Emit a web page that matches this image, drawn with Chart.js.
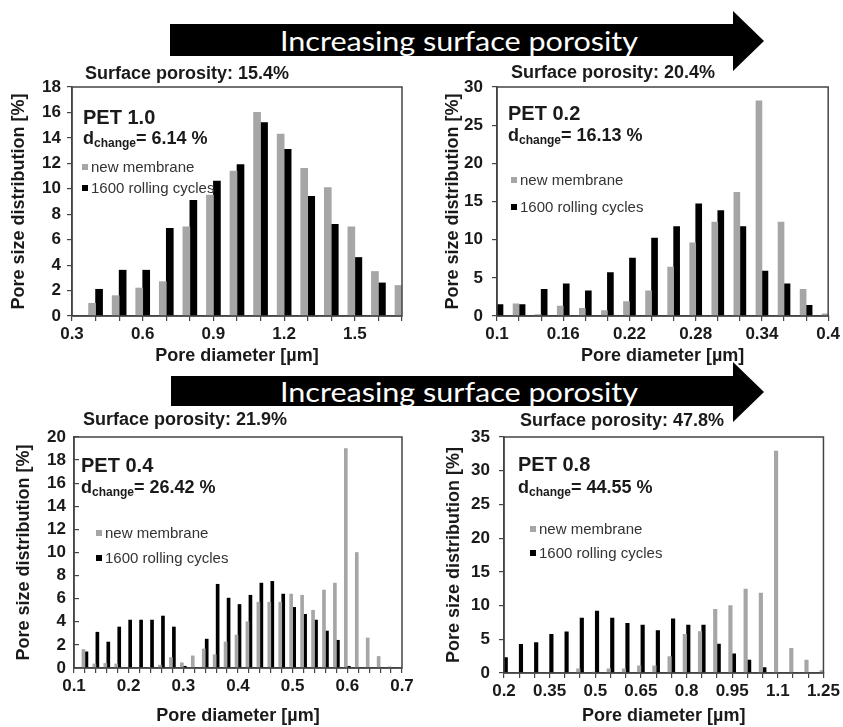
<!DOCTYPE html>
<html>
<head>
<meta charset="utf-8">
<script src="https://cdn.jsdelivr.net/npm/chart.js@4.4.1/dist/chart.umd.min.js"></script>
<style>
	body { margin: 0; background: #fff; }
	#fig { position: relative; width: 843px; height: 727px; overflow: hidden; font-family: 'Liberation Sans', Arial, sans-serif; color: #1a1a1a; }
	.panel { position: absolute; }
	.lbl { position: absolute; white-space: nowrap; line-height: 22px; height: 22px; }
	.sp { font-weight: bold; font-size: 18px; }
	.pet { font-weight: bold; font-size: 20px; }
	.dch { font-weight: bold; font-size: 18px; }
	.dch sub { font-size: 12px; vertical-align: -3px; line-height: 0; }
	.leg { font-size: 15px; color: #333; }
	.leg i { display: inline-block; width: 6px; height: 6px; margin-right: 3px; vertical-align: 2px; }
	.arrow { position: absolute; left: 0; top: 0; }
</style>
</head>
<body>
<div id="fig">
	<svg class="arrow" width="843" height="727">
		<polygon points="170,24 733,24 733,11 764,41 733,71 733,56 170,56" fill="#000"/>
		<polygon points="171,376 733,376 733,362 764,392 733,422 733,406 171,406" fill="#000"/>
		<text x="280" y="51" fill="#fff" font-family="Lato" font-size="26" textLength="358" lengthAdjust="spacingAndGlyphs">Increasing surface porosity</text>
		<text x="280" y="402" fill="#fff" font-family="Lato" font-size="26" textLength="358" lengthAdjust="spacingAndGlyphs">Increasing surface porosity</text>
	</svg>

	<div class="panel" style="left:8px;top:60px"><canvas id="pet10" width="412" height="307"></canvas></div>
	<div class="panel" style="left:442px;top:60px"><canvas id="pet02" width="401" height="307"></canvas></div>
	<div class="panel" style="left:13px;top:410px"><canvas id="pet04" width="407" height="317"></canvas></div>
	<div class="panel" style="left:443px;top:410px"><canvas id="pet08" width="400" height="317"></canvas></div>

	<!-- PET 1.0 -->
	<div class="lbl sp" style="left:85px;top:62px">Surface porosity: 15.4%</div>
	<div class="lbl pet" style="left:83px;top:106px">PET 1.0</div>
	<div class="lbl dch" style="left:83px;top:127px">d<sub>change</sub>= 6.14 %</div>
	<div class="lbl leg" style="left:82px;top:156px"><i style="background:#a6a6a6"></i>new membrane</div>
	<div class="lbl leg" style="left:82px;top:177px"><i style="background:#000"></i>1600 rolling cycles</div>

	<!-- PET 0.2 -->
	<div class="lbl sp" style="left:511px;top:61px">Surface porosity: 20.4%</div>
	<div class="lbl pet" style="left:508px;top:102px">PET 0.2</div>
	<div class="lbl dch" style="left:508px;top:124px">d<sub>change</sub>= 16.13 %</div>
	<div class="lbl leg" style="left:511px;top:169px"><i style="background:#a6a6a6"></i>new membrane</div>
	<div class="lbl leg" style="left:511px;top:196px"><i style="background:#000"></i>1600 rolling cycles</div>

	<!-- PET 0.4 -->
	<div class="lbl sp" style="left:83px;top:408px">Surface porosity: 21.9%</div>
	<div class="lbl pet" style="left:81px;top:454px">PET 0.4</div>
	<div class="lbl dch" style="left:81px;top:476px">d<sub>change</sub>= 26.42 %</div>
	<div class="lbl leg" style="left:96px;top:522px"><i style="background:#a6a6a6"></i>new membrane</div>
	<div class="lbl leg" style="left:96px;top:547px"><i style="background:#000"></i>1600 rolling cycles</div>

	<!-- PET 0.8 -->
	<div class="lbl sp" style="left:520px;top:409px">Surface porosity: 47.8%</div>
	<div class="lbl pet" style="left:518px;top:453px">PET 0.8</div>
	<div class="lbl dch" style="left:518px;top:476px">d<sub>change</sub>= 44.55 %</div>
	<div class="lbl leg" style="left:530px;top:518px"><i style="background:#a6a6a6"></i>new membrane</div>
	<div class="lbl leg" style="left:530px;top:542px"><i style="background:#000"></i>1600 rolling cycles</div>
</div>

<script>
// PET 1.0 - pore diameter classes [µm] and distribution [%]
var pet10Diameter = ['0.3', '0.4', '0.5', '0.6', '0.7', '0.8', '0.9', '1.0', '1.1', '1.2', '1.3', '1.4', '1.5', '1.6', '1.7']
var pet10Ticks = ['0.3', '0.6', '0.9', '1.2', '1.5']
var pet10New = [0, 1.0, 1.6, 2.2, 2.7, 7.0, 9.5, 11.4, 16.0, 14.3, 11.6, 10.1, 7.0, 3.5, 2.4]
var pet10Rolled = [0, 2.1, 3.6, 3.6, 6.9, 9.1, 10.6, 11.9, 15.2, 13.1, 9.4, 7.2, 4.6, 2.6, 0]

// PET 0.2
var pet02Diameter = ['0.1', '0.12', '0.14', '0.16', '0.18', '0.2', '0.22', '0.24', '0.26', '0.28', '0.3', '0.32', '0.34', '0.36', '0.38', '0.4']
var pet02Ticks = ['0.1', '0.16', '0.22', '0.28', '0.34', '0.4']
var pet02New = [0, 1.6, 0.2, 1.3, 1.0, 0.7, 1.9, 3.3, 6.4, 9.6, 12.3, 16.2, 28.2, 12.3, 3.5, 0.3]
var pet02Rolled = [1.5, 1.5, 3.5, 4.2, 3.3, 5.7, 7.6, 10.2, 11.7, 14.7, 13.8, 11.7, 5.9, 4.2, 1.4, 0]

// PET 0.4
var pet04Diameter = ['0.1', '0.12', '0.14', '0.16', '0.18', '0.2', '0.22', '0.24', '0.26', '0.28', '0.3', '0.32', '0.34', '0.36', '0.38', '0.4',
	'0.42', '0.44', '0.46', '0.48', '0.5', '0.52', '0.54', '0.56', '0.58', '0.6', '0.62', '0.64', '0.66', '0.68', '0.7']
var pet04Ticks = ['0.1', '0.2', '0.3', '0.4', '0.5', '0.6', '0.7']
var pet04New = [0, 1.6, 0.35, 0.4, 0.35, 0, 0, 0, 0.25, 0.9, 0.45, 1.05, 1.65, 1.15, 2.25, 2.85,
	4.0, 5.7, 5.7, 5.7, 6.4, 6.3, 5.0, 6.75, 7.35, 19.0, 10.0, 2.6, 1.0, 0.1, 0]
var pet04Rolled = [0, 1.4, 3.1, 2.25, 3.55, 4.15, 4.15, 4.15, 4.5, 3.55, 0.15, 0, 2.5, 7.25, 6.05, 5.5,
	6.3, 7.35, 7.5, 6.4, 5.25, 4.65, 4.15, 3.2, 2.4, 0.15, 0, 0, 0, 0, 0]

// PET 0.8
var pet08Diameter = ['0.2', '0.25', '0.3', '0.35', '0.4', '0.45', '0.5', '0.55', '0.6', '0.65', '0.7', '0.75', '0.8', '0.85', '0.9', '0.95',
	'1.0', '1.05', '1.1', '1.15', '1.2', '1.25']
var pet08Ticks = ['0.2', '0.35', '0.5', '0.65', '0.8', '0.95', '1.1', '1.25']
var pet08New = [0, 0, 0, 0, 0, 0.6, 0.15, 0.6, 0.6, 1.05, 1.05, 2.45, 5.75, 6.15, 9.45, 10.0, 12.45, 11.85, 32.9, 3.65, 1.9, 0.35]
var pet08Rolled = [2.3, 4.25, 4.5, 5.75, 6.1, 8.15, 9.2, 8.15, 7.35, 7.1, 6.3, 8.05, 7.1, 7.1, 4.3, 2.85, 1.9, 0.8, 0, 0, 0, 0]

var textColor = '#1a1a1a'
var lineColor = '#444'

// box round the plot area
var frame = {
	id: 'frame',
	afterDraw: function (chart) {
		var a = chart.chartArea
		var ctx = chart.ctx
		ctx.save()
		ctx.strokeStyle = lineColor
		ctx.lineWidth = 1.5
		ctx.strokeRect(a.left, a.top, a.right - a.left, a.bottom - a.top)
		ctx.restore()
	}
}

function createPanel (id, diameter, ticks, newVals, rolledVals, p) {
	var ctx = document.getElementById(id).getContext('2d')

	return new Chart(ctx, {
		type: 'bar',
		data: {
			labels: diameter,
			datasets: [{
				label: 'new membrane',
				data: newVals,
				backgroundColor: '#a6a6a6',
				barThickness: p.bar,
				borderWidth: 0
			}, {
				label: '1600 rolling cycles',
				data: rolledVals,
				backgroundColor: '#000',
				barThickness: p.bar,
				borderWidth: 0
			}]
		},
		options: {
			responsive: false,
			animation: false,
			layout: {
				padding: { top: p.padTop, right: p.padRight, left: 0, bottom: 0 }
			},
			plugins: {
				legend: { display: false },
				tooltip: { enabled: false }
			},
			scales: {
				x: {
					type: 'category',
					offset: false,
					grid: { offset: false, drawOnChartArea: false, drawTicks: true, tickLength: 5, color: lineColor, lineWidth: 1.2 },
					border: { color: lineColor, width: 1.5 },
					ticks: {
						autoSkip: false,
						maxRotation: 0,
						padding: 3,
						color: textColor,
						font: { family: 'Liberation Sans', size: 17, weight: 'bold' },
						callback: function (value) {
							var label = this.getLabelForValue(value)
							return ticks.indexOf(label) >= 0 ? label : ''
						}
					},
					title: {
						display: true,
						text: 'Pore diameter [µm]',
						color: textColor,
						padding: 0,
						font: { family: 'Liberation Sans', size: 18, weight: 'bold' }
					},
					afterFit: function (scale) { scale.height = p.xAxisH }
				},
				y: {
					min: 0,
					max: p.yMax,
					grid: { drawOnChartArea: false, drawTicks: true, tickLength: p.yTick, color: lineColor, lineWidth: 1.2 },
					border: { color: lineColor, width: 1.5 },
					ticks: {
						stepSize: p.yStep,
						autoSkip: false,
						padding: p.yPad,
						color: textColor,
						font: { family: 'Liberation Sans', size: 17, weight: 'bold' }
					},
					title: {
						display: true,
						text: 'Pore size distribution [%]',
						color: textColor,
						padding: 0,
						font: { family: 'Liberation Sans', size: 18, weight: 'bold' }
					},
					afterFit: function (scale) { scale.width = p.yAxisW }
				}
			}
		},
		plugins: [frame]
	})
}

createPanel('pet10', pet10Diameter, pet10Ticks, pet10New, pet10Rolled,
	{ yMax: 18, yStep: 2, bar: 7, yAxisW: 64, xAxisH: 51, padTop: 27, padRight: 18, yTick: 5, yPad: 6 })
createPanel('pet02', pet02Diameter, pet02Ticks, pet02New, pet02Rolled,
	{ yMax: 30, yStep: 5, bar: 6, yAxisW: 55, xAxisH: 51, padTop: 27, padRight: 14, yTick: 5, yPad: 9 })
createPanel('pet04', pet04Diameter, pet04Ticks, pet04New, pet04Rolled,
	{ yMax: 20, yStep: 2, bar: 3, yAxisW: 61, xAxisH: 59, padTop: 27, padRight: 18, yTick: -5, yPad: 13 })
createPanel('pet08', pet08Diameter, pet08Ticks, pet08New, pet08Rolled,
	{ yMax: 35, yStep: 5, bar: 3.5, yAxisW: 61, xAxisH: 54, padTop: 27, padRight: 14, yTick: 5, yPad: 9 })
</script>
</body>
</html>
